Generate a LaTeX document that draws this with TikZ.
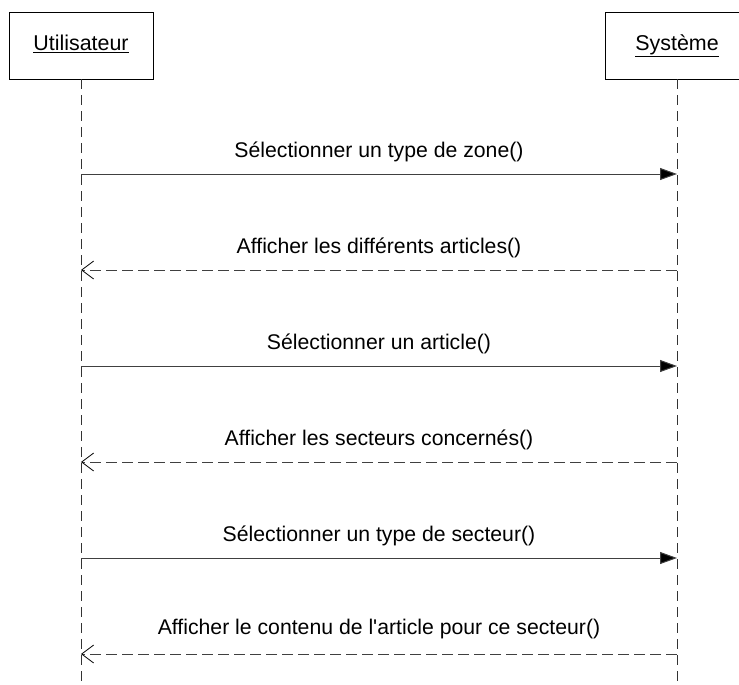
\documentclass[tikz,border=0pt]{standalone}
\usepackage{fontspec}
\setmainfont{Liberation Sans}[Ligatures=TeXOff]
\usetikzlibrary{arrows.meta}
\begin{document}
\begin{tikzpicture}[x=1bp,y=-1bp,
  actor/.style={draw=black, line width=0.8bp, minimum width=144bp, minimum height=67bp, inner sep=0pt, text height=15bp, text depth=5bp, font=\fontsize{21.5}{24}\selectfont},
  lifeline/.style={draw=black!80, line width=0.8bp, dash pattern=on 10bp off 6bp},
  callmsg/.style={draw=black!75, line width=1bp, -{Triangle[length=17bp,width=12bp,fill=black]}},
  retmsg/.style={draw=black!75, line width=1bp, dash pattern=on 11bp off 5bp, -{Straight Barb[length=12bp,width=18bp,line width=0.8bp,black]}},
  lbl/.style={anchor=base, font=\fontsize{21.3}{24}\selectfont, inner sep=0pt}]
\useasboundingbox (0,0) rectangle (739,685);
\begin{scope}
\clip (0,0) rectangle (739,685);
\node[actor] (u) at (81,45.5) {\underline{Utilisateur}};
\node[actor] (s) at (677,45.5) {\underline{Système}};
\coordinate (ue) at (81,685);
\coordinate (se) at (677,685);
\draw[lifeline] (u.south) -- (ue);
\draw[lifeline] (s.south) -- (se);
\end{scope}
\foreach \y/\n in {174/a,270/b,366/c,462/d,558/e,654/f}{
  \coordinate (u\n) at (81,\y);
  \coordinate (s\n) at (677,\y);
}
\draw[callmsg] (ua) -- (sa);
\draw[retmsg] (sb) -- (ub);
\draw[callmsg] (uc) -- (sc);
\draw[retmsg] (sd) -- (ud);
\draw[callmsg] (ue) -- (se);
\draw[retmsg] (sf) -- (uf);
\node[lbl] (la) at (379,157) {Sélectionner un type de zone()};
\node[lbl] (lb) at (379,253) {Afficher les différents articles()};
\node[lbl] (lc) at (379,349) {Sélectionner un article()};
\node[lbl] (ld) at (379,445) {Afficher les secteurs concernés()};
\node[lbl] (le) at (379,541) {Sélectionner un type de secteur()};
\node[lbl] (lf) at (379,634) {Afficher le contenu de l'article pour ce secteur()};
\end{tikzpicture}
\end{document}
